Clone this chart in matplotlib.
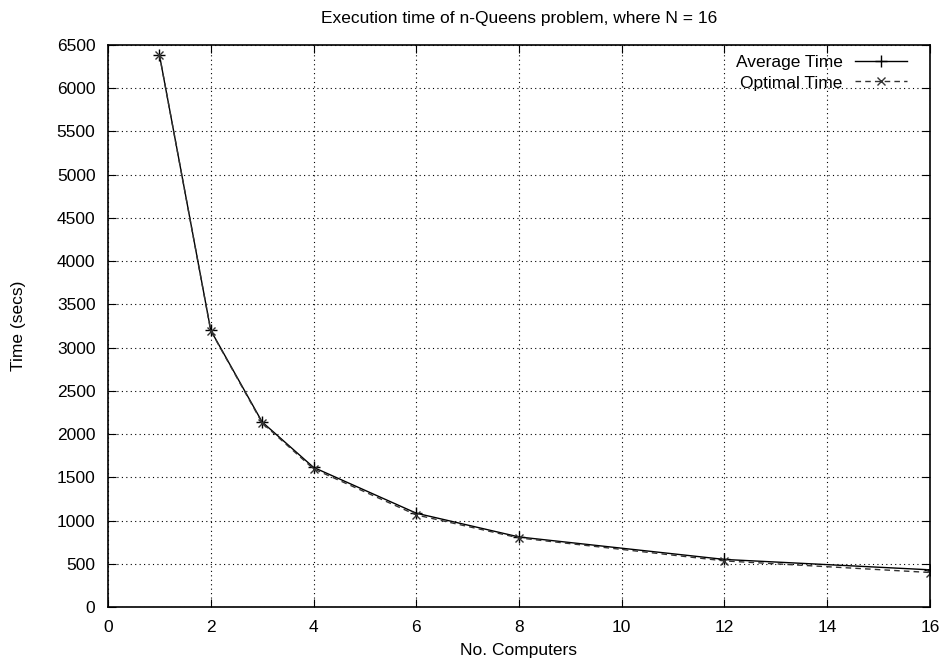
import numpy as np
import matplotlib
matplotlib.use('Agg')
import matplotlib.pyplot as plt

plt.rcParams['font.family'] = ['Liberation Sans', 'DejaVu Sans']

computers = [1, 2, 3, 4, 6, 8, 12, 16]
avg_time = [6390, 3200, 2140, 1615, 1085, 810, 550, 430]
opt_time = [6390, 3195, 2130, 1598, 1065, 799, 533, 399]

fs = 12.5

fig = plt.figure(figsize=(9.48, 6.66), dpi=100)
ax = fig.add_axes([108/948, 59/666, 822/948, 562/666])

ax.plot(computers, avg_time, c='black', lw=1, marker='+', ms=8, mew=1, label='Average Time')
ax.plot(computers, opt_time, c='#333333', lw=1, ls=(0, (4, 3)), marker='x', ms=6, mew=1, label='Optimal Time')

ax.set_xlim(0, 16)
ax.set_ylim(0, 6500)
ax.set_xticks(np.arange(0, 17, 2))
ax.set_yticks(np.arange(0, 6501, 500))
ax.grid(True, ls=(0, (1, 3)), c='black', lw=0.8)
ax.tick_params(direction='in', top=True, right=True, length=6, labelsize=fs, pad=9)
for s in ax.spines.values():
    s.set_linewidth(1.2)

ax.set_xlabel('No. Computers', fontsize=fs, labelpad=6)
ax.set_ylabel('Time (secs)', fontsize=fs, labelpad=22)
ax.set_title('Execution time of n-Queens problem, where N = 16', fontsize=fs, pad=16)

leg = ax.legend(loc='upper right', frameon=False, fontsize=fs, markerfirst=False,
                handlelength=3.0, handletextpad=0.7, borderpad=0, borderaxespad=0,
                labelspacing=0.3, bbox_to_anchor=(907/948, 1 - 55/666),
                bbox_transform=fig.transFigure)
for t in leg.get_texts():
    t.set_ha('right')

fig.savefig('out.png', dpi=100)
